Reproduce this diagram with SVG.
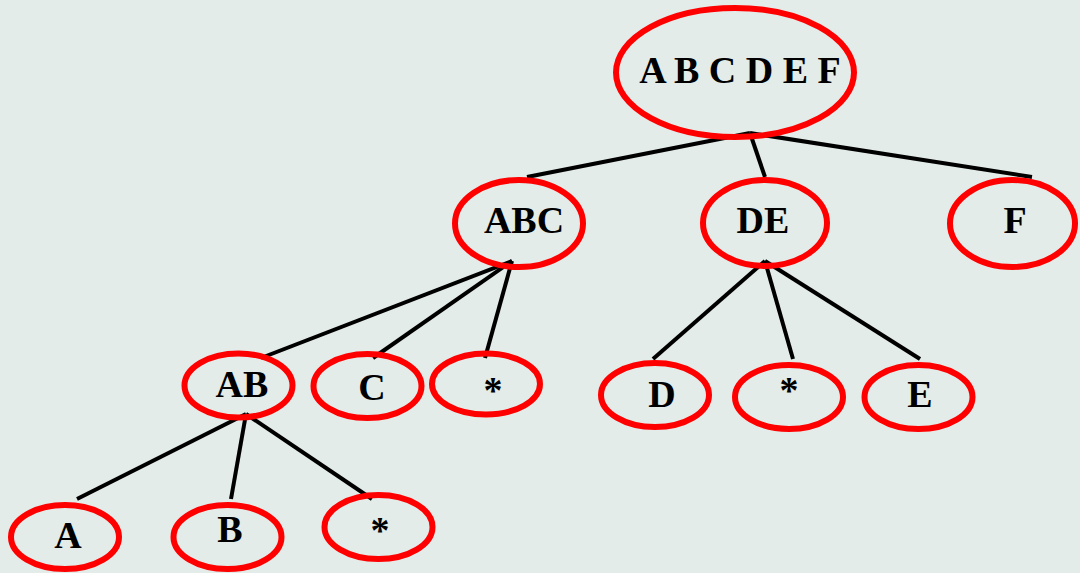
<svg xmlns="http://www.w3.org/2000/svg" width="1080" height="573" viewBox="0 0 1080 573">
  <style>
    .bg { fill: #e3ece9; }
    .node ellipse { fill: none; stroke: #ff0000; stroke-width: 6; }
    .node text { font-family: "Liberation Serif", "Times New Roman", serif; font-weight: bold; font-size: 38px; fill: #000; text-anchor: middle; }
    .edges line { stroke: #000; stroke-width: 4; }
  </style>
  <rect class="bg" x="0" y="0" width="1080" height="573"/>

  <g class="edges">
    <!-- root to level 1 -->
    <line x1="750" y1="133" x2="527" y2="177"/>
    <line x1="750" y1="133" x2="765" y2="177"/>
    <line x1="750" y1="133" x2="1032" y2="177"/>
    <!-- ABC to children -->
    <line x1="512" y1="261" x2="261" y2="358"/>
    <line x1="512" y1="261" x2="373" y2="358"/>
    <line x1="512" y1="261" x2="485" y2="358"/>
    <!-- DE to children -->
    <line x1="765" y1="261" x2="653" y2="359"/>
    <line x1="765" y1="261" x2="793" y2="359"/>
    <line x1="765" y1="261" x2="920" y2="359"/>
    <!-- AB to children -->
    <line x1="246" y1="414" x2="77" y2="499"/>
    <line x1="246" y1="414" x2="231" y2="499"/>
    <line x1="246" y1="414" x2="372" y2="499"/>
  </g>

  <g id="node-root" class="node">
    <ellipse cx="735" cy="72.5" rx="119" ry="64.5"/>
    <text x="740" y="83">A B C D E F</text>
  </g>
  <g id="node-abc" class="node">
    <ellipse cx="519" cy="223.5" rx="64" ry="43.5"/>
    <text x="524" y="233">ABC</text>
  </g>
  <g id="node-de" class="node">
    <ellipse cx="765" cy="223" rx="62" ry="43"/>
    <text x="763" y="233">DE</text>
  </g>
  <g id="node-f" class="node">
    <ellipse cx="1012.5" cy="223.5" rx="62.5" ry="43.5"/>
    <text x="1015" y="233">F</text>
  </g>
  <g id="node-ab" class="node">
    <ellipse cx="238.5" cy="385.5" rx="54" ry="32"/>
    <text x="242" y="397">AB</text>
  </g>
  <g id="node-c" class="node">
    <ellipse cx="367.5" cy="386" rx="54" ry="32"/>
    <text x="372" y="400">C</text>
  </g>
  <g id="node-star1" class="node">
    <ellipse cx="486" cy="384" rx="54" ry="30.5"/>
    <text x="493" y="403">*</text>
  </g>
  <g id="node-d" class="node">
    <ellipse cx="655" cy="395" rx="54" ry="32"/>
    <text x="662" y="407">D</text>
  </g>
  <g id="node-star2" class="node">
    <ellipse cx="789" cy="397" rx="54" ry="32"/>
    <text x="789" y="403">*</text>
  </g>
  <g id="node-e" class="node">
    <ellipse cx="918.5" cy="397" rx="54" ry="32"/>
    <text x="920" y="407">E</text>
  </g>
  <g id="node-a" class="node">
    <ellipse cx="65" cy="537" rx="54" ry="32"/>
    <text x="68" y="548">A</text>
  </g>
  <g id="node-b" class="node">
    <ellipse cx="227.5" cy="537" rx="54" ry="32"/>
    <text x="230" y="542">B</text>
  </g>
  <g id="node-star3" class="node">
    <ellipse cx="378.5" cy="527" rx="54" ry="32"/>
    <text x="380" y="543">*</text>
  </g>
</svg>
